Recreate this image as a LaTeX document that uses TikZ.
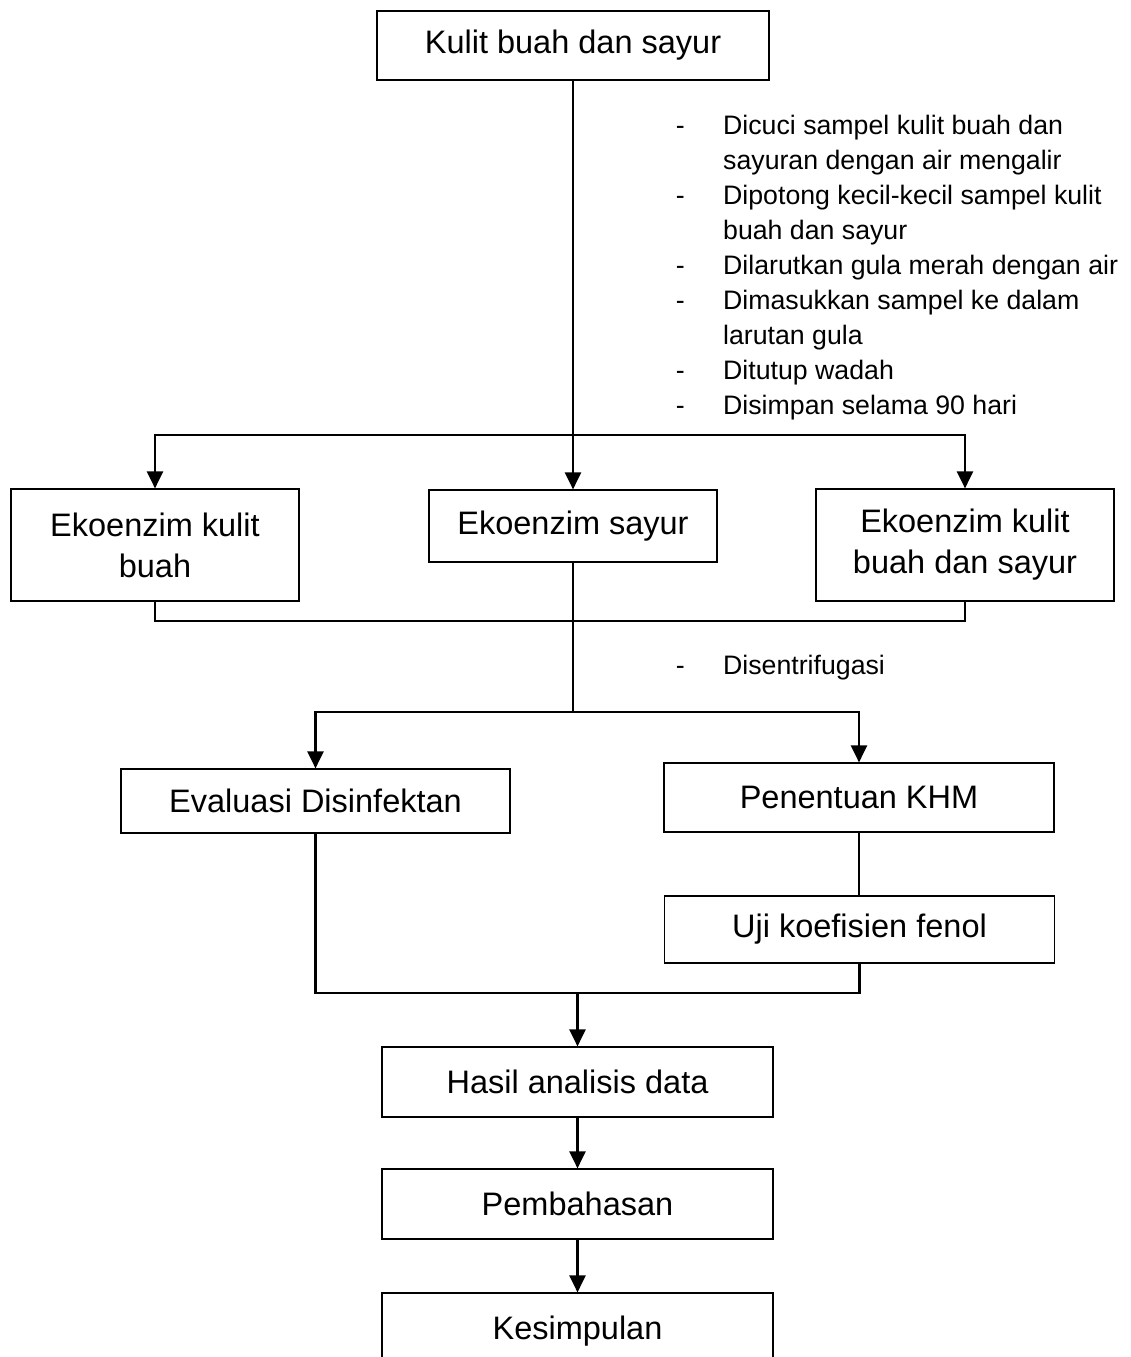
\documentclass[tikz,border=0pt]{standalone}
\usepackage{fontspec}
\setmainfont{Liberation Sans}
\usetikzlibrary{arrows.meta}
\newcommand{\dashitem}{\llap{\makebox[0pt][c]{-}\hskip 43pt}}
\begin{document}
\begin{tikzpicture}[x=1pt,y=-1pt,
  box/.style={draw=black, line width=1.2pt, inner sep=0pt, align=center,
    font=\fontsize{32.5}{41}\selectfont},
  conn/.style={draw=black, line width=2.3pt},
  arr/.style={conn, -{Triangle[width=16pt,length=17pt]}},
  note/.style={anchor=base west, inner sep=0pt, align=left,
    font=\fontsize{26.7}{35}\selectfont}]
\useasboundingbox (0,0) rectangle (1130,1357);
\clip (0,0) rectangle (1130,1357);
% boxes
\node[box, minimum width=392pt, minimum height=69pt] (top) at (573,45.5) {Kulit buah dan sayur};
\node[box, minimum width=288pt, minimum height=112pt] (s1) at (155,545) {Ekoenzim kulit\\buah};
\node[box, minimum width=288pt, minimum height=72pt] (s2) at (573,526) {Ekoenzim sayur};
\node[box, minimum width=298pt, minimum height=112pt] (s3) at (965,545) {Ekoenzim kulit\\buah dan sayur};
\node[box, minimum width=389pt, minimum height=64pt] (ev) at (315.5,801) {Evaluasi Disinfektan};
\node[box, minimum width=390pt, minimum height=69pt] (khm) at (859,797.5) {Penentuan KHM};
\node[box, minimum width=390pt, minimum height=67pt] (uji) at (859.5,929.5) {Uji koefisien fenol};
\node[box, minimum width=391pt, minimum height=70pt] (hasil) at (577.5,1082) {Hasil analisis data};
\node[box, minimum width=391pt, minimum height=70pt] (pemb) at (577.5,1204) {Pembahasan};
\node[box, minimum width=391pt, minimum height=120pt, text depth=50pt] (kes) at (577.5,1353) {Kesimpulan};
% notes (anchored at the baseline of the last line)
\node[note] (n1) at (723,414.5) {\dashitem Dicuci sampel kulit buah dan\\sayuran dengan air mengalir\\\dashitem Dipotong kecil-kecil sampel kulit\\buah dan sayur\\\dashitem Dilarutkan gula merah dengan air\\\dashitem Dimasukkan sampel ke dalam\\larutan gula\\\dashitem Ditutup wadah\\\dashitem Disimpan selama 90 hari};
\node[note] (n2) at (723,674) {\dashitem Disentrifugasi};
% junctions
\coordinate (j1) at (573,435);
\coordinate (j2) at (573,621);
\coordinate (j3) at (573,712);
\coordinate (j4) at (577.5,993);
% connectors
\draw[arr] (top.south) -- (s2.north);
\draw[arr] (j1) -| (s1.north);
\draw[arr] (j1) -| (s3.north);
\draw[conn] (s1.south) |- (j2) -| (s3.south);
\draw[conn] (s2.south) -- (j3);
\draw[arr] (j3) -| (ev.north);
\draw[arr] (j3) -| (khm.north);
\draw[conn] (khm.south) -- (khm.south |- uji.north);
\draw[conn] (ev.south) |- (j4) -| (uji.south);
\draw[arr] (j4) -- (hasil.north);
\draw[arr] (hasil.south) -- (pemb.north);
\draw[arr] (pemb.south) -- (kes.north);
\end{tikzpicture}
\end{document}
